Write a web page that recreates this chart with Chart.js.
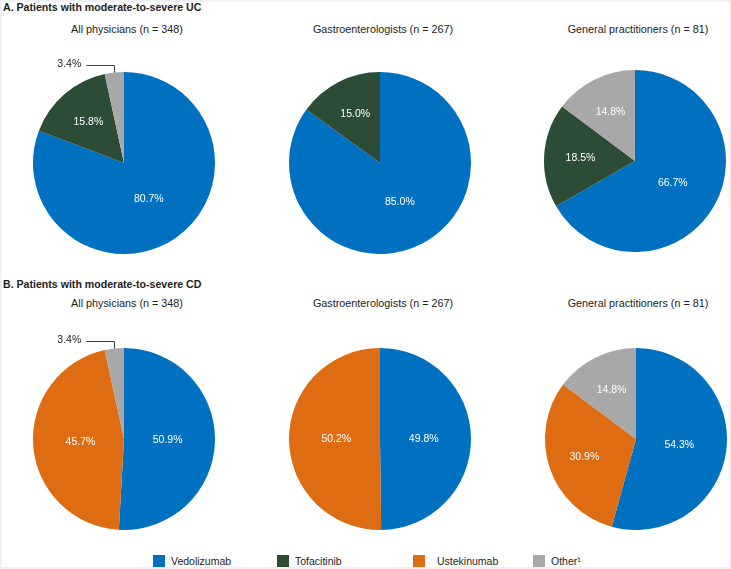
<!DOCTYPE html>
<html>
<head>
<meta charset="utf-8">
<script src="https://cdn.jsdelivr.net/npm/chart.js@4"></script>
<style>
  html, body { margin: 0; padding: 0; background: #fff; }
  body { width: 731px; height: 569px; position: relative; overflow: hidden;
         font-family: "Liberation Sans", Arial, sans-serif; color: #222; }
  .frame { position: absolute; left: 0; top: 0; width: 727px; height: 565px;
           border: 2px solid #eef2f6; pointer-events: none; }
  .section { position: absolute; left: 3px; font-size: 10.6px; font-weight: bold; line-height: 13px; }
  .sub { position: absolute; width: 240px; text-align: center; font-size: 10.8px; line-height: 13px; }
  canvas { position: absolute; }
  .legend-item { position: absolute; top: 555px; font-size: 10.5px; line-height: 12px; white-space: nowrap; }
  .legend-item span { position: absolute; left: 0; top: 0; width: 12px; height: 12px; }
  .legend-item b { font-weight: normal; position: absolute; top: 0; }
</style>
</head>
<body>
<div class="frame"></div>
<div class="section" style="top:1px">A. Patients with moderate-to-severe UC</div>
<div class="section" style="top:278px">B. Patients with moderate-to-severe CD</div>
<div id="subs"></div>
<canvas id="ucAll" width="248" height="220" style="left:0;top:53px"></canvas>
<canvas id="ucGastro" width="248" height="220" style="left:256px;top:53px"></canvas>
<canvas id="ucGP" width="248" height="220" style="left:511px;top:51px"></canvas>
<canvas id="cdAll" width="248" height="220" style="left:0;top:329px"></canvas>
<canvas id="cdGastro" width="248" height="220" style="left:256px;top:329px"></canvas>
<canvas id="cdGP" width="248" height="220" style="left:512px;top:329px"></canvas>
<div id="legend"></div>
<script>
// Treatments (legend order) and colours
const drugs = ['Vedolizumab', 'Tofacitinib', 'Ustekinumab', 'Other\u00b9'];
const drugColors = ['#0071c1', '#2d4c36', '#de6c12', '#a8a8a8'];

// Physician groups
const groups = ['All physicians (n = 348)', 'Gastroenterologists (n = 267)', 'General practitioners (n = 81)'];

// Percentages per group, in drug order
const ucAll = [80.7, 15.8, 0, 3.4];
const ucGastro = [85.0, 15.0, 0, 0];
const ucGP = [66.7, 18.5, 0, 14.8];
const cdAll = [50.9, 0, 45.7, 3.4];
const cdGastro = [49.8, 0, 50.2, 0];
const cdGP = [54.3, 0, 30.9, 14.8];

// Percentage labels: inside white, small slices outside with a leader line
const sliceLabels = {
    id: 'sliceLabels',
    afterDatasetsDraw(chart) {
        const ctx = chart.ctx;
        const meta = chart.getDatasetMeta(0);
        const values = chart.data.datasets[0].data;
        ctx.save();
        ctx.font = '10.5px "Liberation Sans", Arial, sans-serif';
        ctx.textBaseline = 'middle';
        meta.data.forEach((arc, i) => {
            const v = values[i];
            if (!v) return;
            const mid = (arc.startAngle + arc.endAngle) / 2;
            const text = v.toFixed(1) + '%';
            if (v < 5) {
                const ex = arc.x + Math.cos(mid) * arc.outerRadius;
                const ey = arc.y + Math.sin(mid) * arc.outerRadius;
                ctx.strokeStyle = '#404040';
                ctx.lineWidth = 1;
                ctx.beginPath();
                ctx.moveTo(Math.round(ex) + 0.5, ey);
                ctx.lineTo(Math.round(ex) + 0.5, Math.round(ey - 8) + 0.5);
                ctx.lineTo(ex - 28, Math.round(ey - 8) + 0.5);
                ctx.stroke();
                ctx.fillStyle = '#222';
                ctx.textAlign = 'right';
                ctx.fillText(text, ex - 33, ey - 8);
            } else {
                const f = v > 45 ? 0.48 : 0.6;
                const r = arc.outerRadius * f;
                ctx.fillStyle = '#ffffff';
                ctx.textAlign = 'center';
                ctx.fillText(text, arc.x + Math.cos(mid) * r, arc.y + Math.sin(mid) * r);
            }
        });
        ctx.restore();
    }
};

function makePie(id, values) {
    const ctx = document.getElementById(id).getContext('2d');
    return new Chart(ctx, {
        type: 'pie',
        data: {
            labels: drugs,
            datasets: [{
                data: values,
                backgroundColor: drugColors,
                borderWidth: 0
            }]
        },
        options: {
            responsive: false,
            animation: false,
            events: [],
            layout: {
                padding: { top: 19, bottom: 19, left: 33, right: 33 }
            },
            plugins: {
                legend: { display: false },
                tooltip: { enabled: false }
            }
        },
        plugins: [sliceLabels]
    });
}

makePie('ucAll', ucAll);
makePie('ucGastro', ucGastro);
makePie('ucGP', ucGP);
makePie('cdAll', cdAll);
makePie('cdGastro', cdGastro);
makePie('cdGP', cdGP);

// Group subtitles above each pie
const subCenters = [127, 383, 638];
const subs = document.getElementById('subs');
[23, 297].forEach(top => {
    groups.forEach((g, i) => {
        const d = document.createElement('div');
        d.className = 'sub';
        d.style.left = (subCenters[i] - 120) + 'px';
        d.style.top = top + 'px';
        d.textContent = g;
        subs.appendChild(d);
    });
});

// Legend along the bottom
const legendX = [153, 277, 413, 533];
const legendTextGap = [18, 18, 24, 18];
const legend = document.getElementById('legend');
drugs.forEach((name, i) => {
    const item = document.createElement('div');
    item.className = 'legend-item';
    item.style.left = legendX[i] + 'px';
    const sw = document.createElement('span');
    sw.style.background = drugColors[i];
    const label = document.createElement('b');
    label.style.left = legendTextGap[i] + 'px';
    label.textContent = name;
    item.appendChild(sw);
    item.appendChild(label);
    legend.appendChild(item);
});
</script>
</body>
</html>
